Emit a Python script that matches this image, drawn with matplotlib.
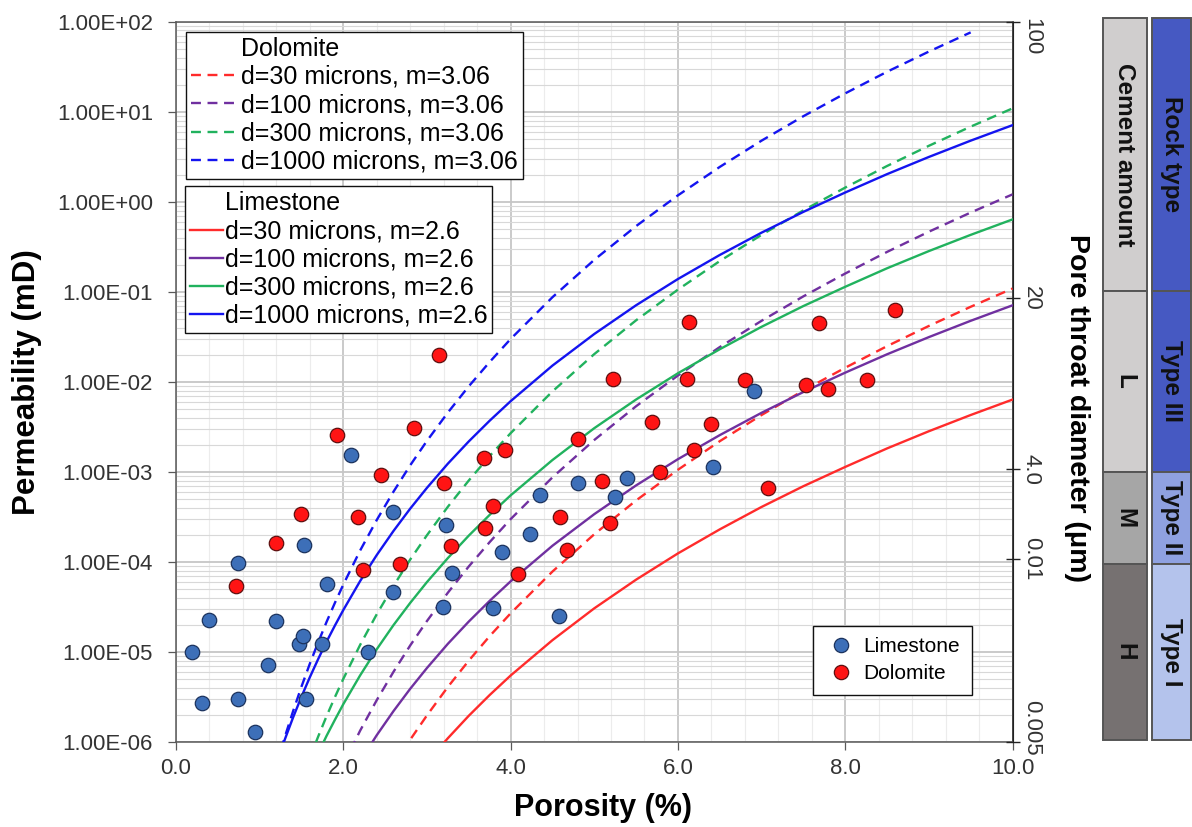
import matplotlib
matplotlib.use("Agg")
import matplotlib.pyplot as plt
import numpy as np
from matplotlib.lines import Line2D
from matplotlib.patches import Rectangle
from matplotlib.ticker import MultipleLocator, LogLocator, NullLocator, FuncFormatter, NullFormatter
import matplotlib.transforms as mtransforms

plt.rcParams['font.family'] = ['Liberation Sans', 'DejaVu Sans']

# ---------------- data ----------------
lime_porosity = [0.19, 0.31, 0.40, 0.74, 0.745, 0.95, 1.10, 1.20, 1.47, 1.52, 1.53, 1.55, 1.75, 1.80,
                 2.09, 2.29, 2.60, 2.60, 3.19, 3.23, 3.30, 3.79, 3.90, 4.23, 4.35, 4.58, 4.80, 5.25,
                 5.39, 6.42, 6.91]
lime_perm = [1.0e-5, 2.7e-6, 2.3e-5, 9.8e-5, 3.0e-6, 1.3e-6, 7.2e-6, 2.2e-5, 1.23e-5, 1.5e-5, 1.57e-4,
             3.0e-6, 1.23e-5, 5.7e-5, 1.56e-3, 1.0e-5, 3.6e-4, 4.7e-5, 3.2e-5, 2.6e-4, 7.5e-5, 3.1e-5,
             1.31e-4, 2.05e-4, 5.6e-4, 2.5e-5, 7.6e-4, 5.3e-4, 8.5e-4, 1.13e-3, 7.9e-3]

dolo_porosity = [0.72, 1.20, 1.49, 1.92, 2.17, 2.23, 2.45, 2.68, 2.84, 3.145, 3.20, 3.29, 3.68, 3.69,
                 3.79, 3.93, 4.09, 4.59, 4.68, 4.80, 5.09, 5.19, 5.22, 5.69, 5.79, 6.11, 6.135, 6.19,
                 6.40, 6.80, 7.08, 7.53, 7.69, 7.79, 8.26, 8.59]
dolo_perm = [5.5e-5, 1.64e-4, 3.4e-4, 2.6e-3, 3.2e-4, 8.1e-5, 9.3e-4, 9.5e-5, 3.1e-3, 2.0e-2, 7.6e-4,
             1.53e-4, 1.44e-3, 2.37e-4, 4.2e-4, 1.77e-3, 7.3e-5, 3.2e-4, 1.35e-4, 2.3e-3, 8.0e-4,
             2.7e-4, 1.07e-2, 3.6e-3, 1.0e-3, 1.07e-2, 4.6e-2, 1.74e-3, 3.4e-3, 1.05e-2, 6.7e-4,
             9.3e-3, 4.5e-2, 8.4e-3, 1.05e-2, 6.3e-2]

# porosity grid of the model curves
curve_porosity = [1.2, 1.3, 1.4, 1.5, 1.6, 1.7, 1.8, 1.9, 2.0, 2.2, 2.4, 2.6, 2.8, 3.0, 3.25, 3.5,
                  3.75, 4.0, 4.5, 5.0, 5.5, 6.0, 6.5, 7.0, 7.5, 8.0, 8.5, 9.0, 9.5, 10.0]

# permeability (first value at porosity given by *_start)
dolo_d30_start, dolo_d30 = 2.6, [5.45e-7, 1.07e-6, 1.99e-6, 4.12e-6, 8.06e-6, 1.51e-5, 2.70e-5,
                                 7.86e-5, 2.04e-4, 4.84e-4, 1.06e-3, 2.20e-3, 4.30e-3, 8.04e-3,
                                 1.44e-2, 2.50e-2, 4.19e-2, 6.84e-2, 0.109]
dolo_d100_start, dolo_d100 = 2.0, [5.63e-7, 1.34e-6, 2.94e-6, 6.06e-6, 1.19e-5, 2.22e-5, 4.58e-5,
                                   8.96e-5, 1.67e-4, 3.00e-4, 8.73e-4, 2.27e-3, 5.38e-3, 1.18e-2,
                                   2.44e-2, 4.78e-2, 8.93e-2, 0.160, 0.278, 0.466, 0.761, 1.21]
dolo_d300_start, dolo_d300 = 1.6, [6.71e-7, 1.16e-6, 1.95e-6, 3.18e-6, 5.06e-6, 1.20e-5, 2.64e-5,
                                   5.45e-5, 1.07e-4, 1.99e-4, 4.12e-4, 8.06e-4, 1.51e-3, 2.70e-3,
                                   7.86e-3, 2.04e-2, 4.84e-2, 0.106, 0.220, 0.430, 0.804, 1.44,
                                   2.50, 4.19, 6.84, 10.9]
dolo_d1000_start, dolo_d1000 = 1.2, [5.50e-7, 1.14e-6, 2.22e-6, 4.15e-6, 7.45e-6, 1.29e-5, 2.17e-5,
                                     3.54e-5, 5.63e-5, 1.34e-4, 2.94e-4, 6.06e-4, 1.19e-3, 2.22e-3,
                                     4.58e-3, 8.96e-3, 1.67e-2, 3.00e-2, 8.73e-2, 0.227, 0.538,
                                     1.18, 2.44, 4.78, 8.93, 16.0, 27.8, 46.6, 76.1]

lime_d30_start, lime_d30 = 3.0, [6.01e-7, 1.11e-6, 1.97e-6, 3.35e-6, 5.51e-6, 1.36e-5, 3.07e-5,
                                 6.39e-5, 1.25e-4, 2.31e-4, 4.10e-4, 6.97e-4, 1.14e-3, 1.83e-3,
                                 2.84e-3, 4.30e-3, 6.38e-3]
lime_d100_start, lime_d100 = 2.2, [6.14e-7, 1.20e-6, 2.22e-6, 3.93e-6, 6.68e-6, 1.24e-5, 2.19e-5,
                                   3.72e-5, 6.12e-5, 1.52e-4, 3.41e-4, 7.11e-4, 1.39e-3, 2.57e-3,
                                   4.55e-3, 7.74e-3, 1.27e-2, 2.03e-2, 3.15e-2, 4.78e-2, 7.10e-2]
lime_d300_start, lime_d300 = 1.7, [7.58e-7, 1.18e-6, 1.78e-6, 2.65e-6, 5.51e-6, 1.08e-5, 2.00e-5,
                                   3.53e-5, 6.01e-5, 1.11e-4, 1.97e-4, 3.35e-4, 5.51e-4, 1.36e-3,
                                   3.07e-3, 6.39e-3, 1.25e-2, 2.31e-2, 4.10e-2, 6.97e-2, 0.114,
                                   0.183, 0.284, 0.430, 0.638]
lime_d1000_start, lime_d1000 = 1.2, [5.77e-7, 1.07e-6, 1.89e-6, 3.21e-6, 5.28e-6, 8.41e-6, 1.31e-5,
                                     1.98e-5, 2.94e-5, 6.14e-5, 1.20e-4, 2.22e-4, 3.93e-4, 6.68e-4,
                                     1.24e-3, 2.19e-3, 3.72e-3, 6.12e-3, 1.52e-2, 3.41e-2, 7.11e-2,
                                     0.139, 0.257, 0.455, 0.774, 1.27, 2.03, 3.15, 4.78, 7.10]

dolo_labels = ["d=30 microns, m=3.06", "d=100 microns, m=3.06", "d=300 microns, m=3.06",
               "d=1000 microns, m=3.06"]
lime_labels = ["d=30 microns, m=2.6", "d=100 microns, m=2.6", "d=300 microns, m=2.6",
               "d=1000 microns, m=2.6"]

x_ticks = [0.0, 2.0, 4.0, 6.0, 8.0, 10.0]
y_ticks = [1e-6, 1e-5, 1e-4, 1e-3, 1e-2, 1e-1, 1e0, 1e1, 1e2]
pore_labels = ["100", "20", "4.0", "0.01", "0.005"]
pore_positions = [1e2, 8.5e-2, 1.08e-3, 1.08e-4, 1e-6]

cement_labels = ["Cement amount", "L", "M", "H"]
rock_labels = ["Rock type", "Type III", "Type II", "Type I"]

# ---------------- styling ----------------
curve_colors = ["#ff2b2b", "#7030a0", "#21b25e", "#1414f0"]
W, H = 1192, 827
fig = plt.figure(figsize=(W / 100, H / 100), dpi=100)
ax_l, ax_r, ax_t, ax_b = 176, 1012.5, 21.7, 742.3
ax = fig.add_axes([ax_l / W, 1 - ax_b / H, (ax_r - ax_l) / W, (ax_b - ax_t) / H])
ax.set_yscale('log')
ax.set_xlim(0, 10)
ax.set_ylim(1e-6, 1e2)

ax.set_xticks(x_ticks)
ax.xaxis.set_major_formatter(FuncFormatter(lambda v, p: f"{v:.1f}"))
ax.xaxis.set_minor_locator(MultipleLocator(0.4))
ax.set_yticks(y_ticks)
ax.yaxis.set_major_formatter(FuncFormatter(lambda v, p: f"{v:.2E}"))
ax.yaxis.set_minor_locator(LogLocator(base=10, subs=np.arange(2, 10)))
ax.yaxis.set_minor_formatter(NullFormatter())

ax.grid(which='major', color='#c6c6c6', lw=1.3, zorder=0)
ax.grid(which='minor', axis='y', color='#d8d8d8', lw=0.8, zorder=0)
ax.grid(which='minor', axis='x', color='#ececec', lw=0.8, zorder=0)
ax.set_axisbelow(True)

ax.tick_params(axis='y', which='major', direction='out', length=5.5, width=0.9, color='#595959',
               labelsize=16, pad=11, labelcolor='#333333')
ax.tick_params(axis='x', which='major', direction='out', length=5.5, width=0.9, color='#595959',
               labelsize=16, pad=6, labelcolor='#333333')
ax.tick_params(which='minor', length=0)
for s in ['left', 'bottom', 'top']:
    ax.spines[s].set_color('#595959')
    ax.spines[s].set_linewidth(1.1)
ax.spines['right'].set_color('#222222')
ax.spines['right'].set_linewidth(1.1)

dash = (0, (4.2, 2.8))
lw = 1.7
grid_arr = np.array(curve_porosity)


def porosity_for(start, vals):
    i0 = int(np.argmin(np.abs(grid_arr - start)))
    return curve_porosity[i0:i0 + len(vals)]


dolo_curves = [(dolo_d30_start, dolo_d30), (dolo_d100_start, dolo_d100),
               (dolo_d300_start, dolo_d300), (dolo_d1000_start, dolo_d1000)]
lime_curves = [(lime_d30_start, lime_d30), (lime_d100_start, lime_d100),
               (lime_d300_start, lime_d300), (lime_d1000_start, lime_d1000)]
dolo_handles, lime_handles = [], []
for (st, vals), c in zip(dolo_curves, curve_colors):
    h, = ax.plot(porosity_for(st, vals), vals, color=c, lw=lw, ls=dash, zorder=3)
    dolo_handles.append(h)
for (st, vals), c in zip(lime_curves, curve_colors):
    h, = ax.plot(porosity_for(st, vals), vals, color=c, lw=lw, ls='-', zorder=3)
    lime_handles.append(h)

ax.scatter(dolo_porosity, dolo_perm, s=108, facecolor='#ff1414', edgecolor='#5e1010', lw=0.9, zorder=5)
ax.scatter(lime_porosity, lime_perm, s=108, facecolor='#3d6fb8', edgecolor='#1c335e', lw=0.9, zorder=6)

# secondary axis ticks
ax2 = ax.twinx()
ax2.set_yscale('log')
ax2.set_ylim(1e-6, 1e2)
ax2.set_yticks(pore_positions)
ax2.set_yticklabels([])
ax2.yaxis.set_minor_locator(NullLocator())
ax2.tick_params(axis='y', direction='inout', length=10, width=1.0, color='#222222')
for s in ['left', 'bottom', 'top']:
    ax2.spines[s].set_visible(False)
ax2.spines['right'].set_color('#222222')

ytr = ax.get_yaxis_transform()
for lab, pos in zip(pore_labels, pore_positions):
    va, dy = 'center', 0
    if lab == pore_labels[0]:
        va, dy = 'top', 4
    if lab == pore_labels[-1]:
        va, dy = 'bottom', -13
    tr = mtransforms.offset_copy(ytr, fig=fig, x=0, y=dy, units='dots')
    ax.text(1.010, pos, lab, transform=tr, rotation=270, ha='left', va=va, fontsize=16,
            color='#333333', clip_on=False)

# legends
blank = Line2D([], [], color='none', lw=0)
leg1 = ax.legend([blank] + dolo_handles, ["Dolomite"] + dolo_labels, loc='upper left',
                 bbox_to_anchor=((186.4 - ax_l) / (ax_r - ax_l), 1 - (31.7 - ax_t) / (ax_b - ax_t)),
                 borderaxespad=0, fontsize=18, handlelength=1.8, handletextpad=0.18,
                 borderpad=0.2, labelspacing=0.17, fancybox=False, framealpha=1,
                 edgecolor='#111111')
leg1.get_frame().set_linewidth(1.0)
leg1.set_zorder(10)
ax.add_artist(leg1)

leg2 = ax.legend([blank] + lime_handles, ["Limestone"] + lime_labels, loc='upper left',
                 bbox_to_anchor=((185.2 - ax_l) / (ax_r - ax_l), 1 - (186 - ax_t) / (ax_b - ax_t)),
                 borderaxespad=0, fontsize=18, handlelength=1.3, handletextpad=0.08,
                 borderpad=0.2, labelspacing=0.17, fancybox=False, framealpha=1,
                 edgecolor='#111111')
leg2.get_frame().set_linewidth(1.0)
leg2.set_zorder(10)
ax.add_artist(leg2)

mk_l = Line2D([], [], ls='none', marker='o', markersize=10.3, markerfacecolor='#3d6fb8',
              markeredgecolor='#1c335e', markeredgewidth=0.9)
mk_d = Line2D([], [], ls='none', marker='o', markersize=10.3, markerfacecolor='#ff1414',
              markeredgecolor='#5e1010', markeredgewidth=0.9)
leg3 = ax.legend([mk_l, mk_d], ["Limestone", "Dolomite"], loc='upper left',
                 bbox_to_anchor=((812.6 - ax_l) / (ax_r - ax_l), 1 - (625.7 - ax_t) / (ax_b - ax_t)),
                 borderaxespad=0, fontsize=15, handlelength=1.6, handletextpad=0.3,
                 borderpad=0.55, labelspacing=0.38, fancybox=False, framealpha=1,
                 edgecolor='#111111')
leg3.get_frame().set_linewidth(1.0)
leg3.set_zorder(10)

# axis titles
fig.text(603 / W, 1 - 808 / H, "Porosity (%)", ha='center', va='center', fontsize=22,
         fontweight='bold')
fig.text(27 / W, 1 - 382 / H, "Permeability (mD)", ha='center', va='center', rotation=90,
         fontsize=22.5, fontweight='bold')
fig.text(1077.5 / W, 1 - 408 / H, "Pore throat diameter (μm)", ha='center', va='center',
         rotation=270, fontsize=20.5, fontweight='bold')

# side classification bars
bg = fig.add_axes([0, 0, 1, 1])
bg.set_xlim(0, W)
bg.set_ylim(H, 0)
bg.set_axis_off()
bg.patch.set_alpha(0)
seg_bounds = [18.3, 290.7, 471.7, 563.7, 740.0]
cement_colors = ["#d0cece", "#d0cece", "#a6a6a6", "#767171"]
rock_colors = ["#4659c2", "#4659c2", "#8fa1e0", "#b4c3ec"]
cols = [(1103, 1147, cement_labels, cement_colors), (1152, 1191, rock_labels, rock_colors)]
for x0, x1, labs, colors in cols:
    for i in range(4):
        y0, y1 = seg_bounds[i], seg_bounds[i + 1]
        bg.add_patch(Rectangle((x0, y0), x1 - x0, y1 - y0, facecolor=colors[i],
                               edgecolor='#555555', lw=1.4))
        bg.text((x0 + x1) / 2, (y0 + y1) / 2, labs[i], rotation=270, ha='center', va='center',
                fontsize=17.5, fontweight='bold', color='#111111')

fig.savefig("out.png", dpi=100)
